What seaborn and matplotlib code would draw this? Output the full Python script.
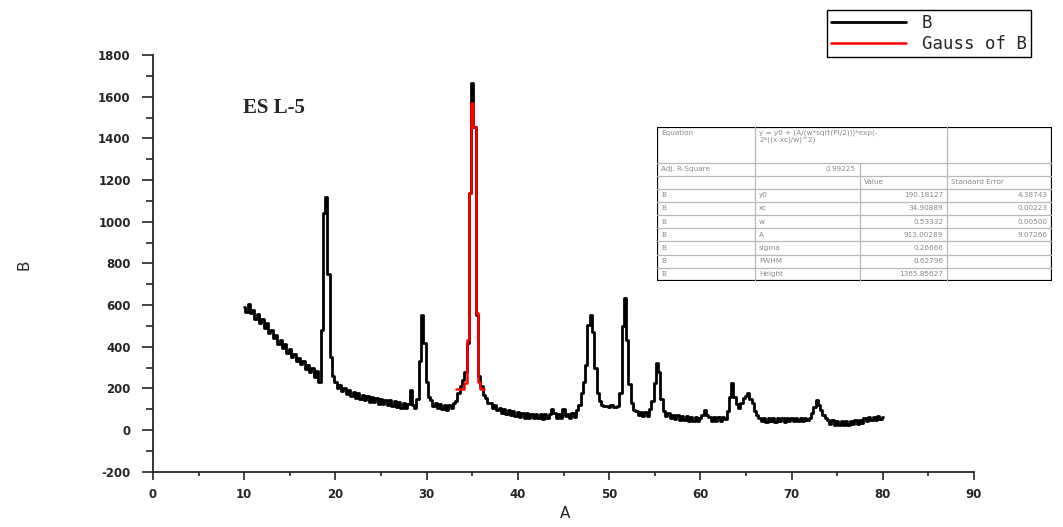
import numpy as np
import pandas as pd
import matplotlib
matplotlib.use("Agg")
import matplotlib.pyplot as plt
import seaborn as sns

# XRD scan (2theta, counts)
two_theta = [
    10.0, 10.25, 10.5, 10.75, 11.0, 11.25, 11.5, 11.75, 12.0, 12.25, 12.5, 12.75,
    13.0, 13.25, 13.5, 13.75, 14.0, 14.25, 14.5, 14.75, 15.0, 15.25, 15.5, 15.75,
    16.0, 16.25, 16.5, 16.75, 17.0, 17.25, 17.5, 17.75, 18.0, 18.25, 18.5, 18.75,
    19.0, 19.25, 19.5, 19.75, 20.0, 20.25, 20.5, 20.75, 21.0, 21.25, 21.5, 21.75,
    22.0, 22.25, 22.5, 22.75, 23.0, 23.25, 23.5, 23.75, 24.0, 24.25, 24.5, 24.75,
    25.0, 25.25, 25.5, 25.75, 26.0, 26.25, 26.5, 26.75, 27.0, 27.25, 27.5, 27.75,
    28.0, 28.25, 28.5, 28.75, 29.0, 29.25, 29.5, 29.75, 30.0, 30.25, 30.5, 30.75,
    31.0, 31.25, 31.5, 31.75, 32.0, 32.25, 32.5, 32.75, 33.0, 33.25, 33.5, 33.75,
    34.0, 34.25, 34.5, 34.75, 35.0, 35.25, 35.5, 35.75, 36.0, 36.25, 36.5, 36.75,
    37.0, 37.25, 37.5, 37.75, 38.0, 38.25, 38.5, 38.75, 39.0, 39.25, 39.5, 39.75,
    40.0, 40.25, 40.5, 40.75, 41.0, 41.25, 41.5, 41.75, 42.0, 42.25, 42.5, 42.75,
    43.0, 43.25, 43.5, 43.75, 44.0, 44.25, 44.5, 44.75, 45.0, 45.25, 45.5, 45.75,
    46.0, 46.25, 46.5, 46.75, 47.0, 47.25, 47.5, 47.75, 48.0, 48.25, 48.5, 48.75,
    49.0, 49.25, 49.5, 49.75, 50.0, 50.25, 50.5, 50.75, 51.0, 51.25, 51.5, 51.75,
    52.0, 52.25, 52.5, 52.75, 53.0, 53.25, 53.5, 53.75, 54.0, 54.25, 54.5, 54.75,
    55.0, 55.25, 55.5, 55.75, 56.0, 56.25, 56.5, 56.75, 57.0, 57.25, 57.5, 57.75,
    58.0, 58.25, 58.5, 58.75, 59.0, 59.25, 59.5, 59.75, 60.0, 60.25, 60.5, 60.75,
    61.0, 61.25, 61.5, 61.75, 62.0, 62.25, 62.5, 62.75, 63.0, 63.25, 63.5, 63.75,
    64.0, 64.25, 64.5, 64.75, 65.0, 65.25, 65.5, 65.75, 66.0, 66.25, 66.5, 66.75,
    67.0, 67.25, 67.5, 67.75, 68.0, 68.25, 68.5, 68.75, 69.0, 69.25, 69.5, 69.75,
    70.0, 70.25, 70.5, 70.75, 71.0, 71.25, 71.5, 71.75, 72.0, 72.25, 72.5, 72.75,
    73.0, 73.25, 73.5, 73.75, 74.0, 74.25, 74.5, 74.75, 75.0, 75.25, 75.5, 75.75,
    76.0, 76.25, 76.5, 76.75, 77.0, 77.25, 77.5, 77.75, 78.0, 78.25, 78.5, 78.75,
    79.0, 79.25, 79.5, 79.75, 80.0,
]
intensity = [
    592, 565, 605, 560, 578, 535, 558, 515, 532, 490, 512, 465,
    482, 440, 458, 415, 432, 395, 412, 372, 388, 350, 365, 330,
    345, 315, 332, 295, 312, 280, 298, 255, 282, 230, 480, 1040,
    1120, 750, 350, 260, 230, 200, 218, 186, 203, 174, 192, 164,
    184, 156, 178, 147, 168, 144, 162, 136, 157, 134, 152, 126,
    150, 124, 144, 118, 142, 116, 137, 111, 134, 108, 130, 106,
    127, 190, 122, 106, 150, 330, 552, 420, 230, 160, 142, 114,
    132, 106, 127, 101, 122, 98, 120, 104, 132, 140, 180, 210,
    240, 280, 420, 1136, 1664, 1456, 550, 260, 210, 170, 152, 131,
    132, 106, 120, 96, 107, 84, 100, 78, 94, 72, 90, 66,
    86, 64, 82, 60, 80, 58, 78, 56, 78, 56, 76, 54,
    77, 56, 76, 100, 80, 58, 78, 56, 100, 68, 78, 58,
    82, 62, 95, 120, 176, 230, 312, 504, 552, 470, 300, 180,
    140, 118, 114, 114, 110, 118, 112, 112, 114, 180, 500, 632,
    430, 220, 128, 98, 92, 72, 88, 66, 86, 68, 100, 140,
    224, 320, 280, 150, 92, 68, 82, 58, 74, 52, 70, 48,
    68, 46, 66, 44, 64, 44, 62, 42, 60, 70, 96, 70,
    62, 44, 64, 42, 62, 44, 64, 52, 90, 160, 224, 160,
    125, 108, 130, 152, 165, 176, 150, 128, 90, 70, 60, 44,
    60, 40, 58, 42, 58, 40, 57, 41, 58, 40, 58, 42,
    58, 42, 59, 41, 60, 42, 58, 46, 60, 80, 112, 144,
    120, 96, 70, 56, 48, 30, 46, 26, 44, 26, 42, 24,
    42, 26, 44, 28, 46, 30, 50, 36, 58, 44, 62, 48,
    64, 50, 66, 52, 62,
]

# Gaussian fit of the main reflection
gauss_theta = [33.25, 33.5, 33.75, 34.0, 34.25, 34.5, 34.75, 35.0, 35.25, 35.5, 35.75, 36.0, 36.25]
gauss_fit = [195, 195, 196, 198, 225, 430, 1136, 1568, 1456, 560, 230, 198, 195]

# fit report table
param_names = ["y0", "xc", "w", "A", "sigma", "FWHM", "Height"]
param_values = ["190.18127", "34.90889", "0.53332", "913.00289", "0.26666", "0.62796", "1365.85627"]
param_errors = ["4.38743", "0.00223", "0.00500", "9.07266", "", "", ""]
equation = "y = y0 + (A/(w*sqrt(PI/2)))*exp(-\n2*((x-xc)/w)^2)"
adj_r2 = "0.99225"

df = pd.DataFrame({"A": two_theta, "B": intensity})
df_fit = pd.DataFrame({"A": gauss_theta, "B": gauss_fit})

sns.set_style("ticks")
plt.rcParams["font.family"] = ["DejaVu Sans"]
plt.rcParams["axes.unicode_minus"] = False

fig = plt.figure(figsize=(10.63, 5.27), dpi=100)
ax = fig.add_axes([153 / 1063, 1 - 471.7 / 527, 821 / 1063, 416.7 / 527])

sns.lineplot(data=df, x="A", y="B", ax=ax, color="black", lw=2.0,
             drawstyle="steps-mid", estimator=None, sort=False, label="B")
sns.lineplot(data=df_fit, x="A", y="B", ax=ax, color="#ff0000", lw=1.8,
             drawstyle="steps-mid", estimator=None, sort=False, label="Gauss of B")

ax.set_xlim(0, 90)
ax.set_ylim(-200, 1800)
ax.set_xticks(range(0, 91, 10))
ax.set_xticks(range(5, 90, 10), minor=True)
ax.set_yticks(range(-200, 1801, 200))
ax.set_yticks(range(-100, 1800, 200), minor=True)
ax.tick_params(axis="x", which="major", length=6, width=1.2, labelsize=8.5, pad=6)
ax.tick_params(axis="x", which="minor", length=3, width=1.2)
ax.tick_params(axis="y", which="major", length=8, width=1.2, labelsize=8.5, pad=8)
ax.tick_params(axis="y", which="minor", length=5, width=1.2)
for lab in ax.get_xticklabels() + ax.get_yticklabels():
    lab.set_fontweight("bold")
for side in ["top", "right"]:
    ax.spines[side].set_visible(False)
for side in ["left", "bottom"]:
    ax.spines[side].set_linewidth(1.3)

ax.set_xlabel("A", fontsize=11)
ax.set_ylabel("B", fontsize=11)
ax.xaxis.set_label_coords(0.502, -0.083)
ax.yaxis.set_label_coords(-0.148, 0.496)

leg = ax.legend(loc="upper left", bbox_to_anchor=(827 / 1063, 1 - 10 / 527),
                bbox_transform=fig.transFigure, frameon=True, fancybox=False,
                edgecolor="black", framealpha=1, borderaxespad=0,
                handlelength=4.3, handletextpad=0.9, labelspacing=0.15,
                borderpad=0.25, prop={"family": "DejaVu Sans Mono", "size": 12.5})
leg.get_frame().set_linewidth(1.0)

fig.text(243 / 1063, 1 - 108 / 527, "ES L-5", family="Liberation Serif",
         fontweight="bold", fontsize=15, ha="left", va="center")

# fit table drawn in its own axes
tab = fig.add_axes([657 / 1063, 1 - 281 / 527, 395 / 1063, 154 / 527])
tab.set_xlim(0, 395)
tab.set_ylim(154, 0)
tab.axis("off")
cols = [0, 98, 203, 290, 395]
rows = [0, 36, 48.5] + [48.5 + 13.19 * k for k in range(1, 9)]
grid_c = "#b8b8b8"
for yy in rows[1:-1]:
    tab.plot([0, 395], [yy, yy], color=grid_c, lw=0.9)
for xx in [cols[1], cols[3]]:
    tab.plot([xx, xx], [0, 154], color=grid_c, lw=0.9)
tab.plot([cols[2], cols[2]], [rows[1], 154], color=grid_c, lw=0.9)
tab.add_patch(plt.Rectangle((0, 0), 395, 154, fill=False, ec="black", lw=1.6))

tc = "#8a8a8a"
fs = 5.2
tab.text(4, 3, "Equation", color=tc, fontsize=fs, va="top")
tab.text(cols[1] + 4, 3, equation, color=tc, fontsize=fs, va="top", linespacing=1.0)
tab.text(4, rows[1] + 6, "Adj. R-Square", color=tc, fontsize=fs, va="center")
tab.text(cols[2] - 4, rows[1] + 6, adj_r2, color=tc, fontsize=fs, va="center", ha="right")
tab.text(cols[2] + 4, rows[2] + 6.6, "Value", color=tc, fontsize=fs, va="center")
tab.text(cols[3] + 4, rows[2] + 6.6, "Standard Error", color=tc, fontsize=fs, va="center")
for i, name in enumerate(param_names):
    yc = rows[3 + i] + 6.6
    tab.text(4, yc, "B", color=tc, fontsize=fs, va="center")
    tab.text(cols[1] + 4, yc, name, color=tc, fontsize=fs, va="center")
    tab.text(cols[3] - 4, yc, param_values[i], color=tc, fontsize=fs, va="center", ha="right")
    tab.text(cols[4] - 4, yc, param_errors[i], color=tc, fontsize=fs, va="center", ha="right")

fig.savefig("out.png", dpi=100)
